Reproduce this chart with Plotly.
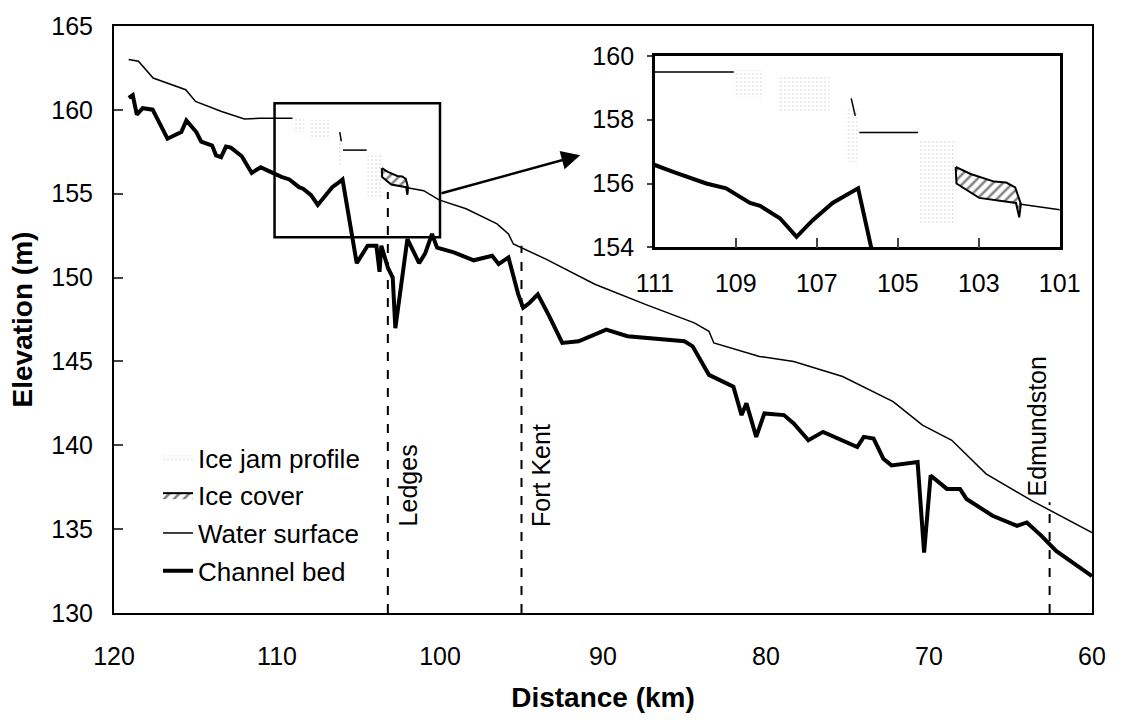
import plotly.graph_objects as go

FONT = "Liberation Sans, Arial, sans-serif"

# Water surface profile (distance km, elevation m); None marks a break in the line
ws_km = [119.1, 118.5, 117.6, 116.5, 115.6, 115.0, 114.2, 113.4, 112.0, 111.0, 109.05, None,
         106.15, 106.05, None,
         105.95, 104.5, None,
         102.0, 101.0, 100.06, 98.4, 96.5, 95.8, 95.5, 93.5, 90.5, 87.4, 84.4, 83.5, 83.2,
         80.4, 78.3, 75.3, 72.2, 70.4, 68.6, 66.5, 63.7, 60.0]
ws_el = [163.0, 162.9, 161.9, 161.5, 161.2, 160.5, 160.2, 159.9, 159.45, 159.5, 159.5, None,
         158.67, 158.12, None,
         157.6, 157.6, None,
         155.36, 155.18, 154.63, 154.1, 153.2, 152.6, 152.0, 151.1, 149.6, 148.4, 147.3, 146.8, 146.1,
         145.3, 145.0, 144.1, 142.6, 141.2, 140.3, 138.3, 136.7, 134.8]

# Channel bed profile
bed_km = [119.09, 118.85, 118.6, 118.24, 117.63, 116.72, 115.87, 115.56, 114.95, 114.65, 113.98,
          113.74, 113.43, 113.13, 112.83, 112.16, 111.55, 111.0, 110.53, 109.73, 109.24, 108.65,
          108.4, 107.91, 107.5, 107.1, 106.61, 106.29, 105.98, 105.11, 104.44, 103.9, 103.71,
          103.6, 103.2, 102.9, 102.74, 102.0, 101.28, 100.91, 100.49, 100.18, 99.15, 97.93,
          96.8, 96.4, 95.8, 95.2, 94.9, 94.5, 94.0, 93.3, 92.5, 91.5, 90.5, 89.8, 88.5, 86.5,
          85.0, 84.5, 83.5, 82.0, 81.5, 81.2, 80.6, 80.1, 78.9, 78.3, 77.4, 76.5, 75.3, 74.4,
          74.0, 73.4, 72.8, 72.3, 70.7, 70.3, 69.9, 68.9, 68.1, 67.7, 66.1, 64.6, 64.0, 63.1,
          62.2, 60.0]
bed_el = [160.71, 160.88, 159.72, 160.1, 160.01, 158.28, 158.68, 159.37, 158.68, 158.1, 157.87,
          157.29, 157.18, 157.81, 157.75, 157.23, 156.24, 156.58, 156.36, 156.0, 155.85, 155.39,
          155.3, 154.91, 154.33, 154.85, 155.39, 155.61, 155.85, 150.86, 151.9, 151.9, 150.34,
          151.9, 150.6, 150.0, 146.98, 152.3, 150.86, 151.44, 152.6, 151.78, 151.5, 151.03,
          151.3, 150.8, 151.2, 149.0, 148.2, 148.5, 149.0, 147.7, 146.1, 146.2, 146.6, 146.9,
          146.5, 146.3, 146.2, 145.9, 144.2, 143.5, 141.8, 142.5, 140.5, 141.9, 141.8, 141.3,
          140.3, 140.8, 140.3, 139.9, 140.5, 140.4, 139.2, 138.8, 139.0, 133.6, 138.2, 137.4,
          137.4, 136.8, 135.8, 135.2, 135.4, 134.6, 133.7, 132.2]

# Ice cover outline (closed polygon)
ice_km = [103.57, 103.2, 102.62, 102.32, 102.1, 101.96, 102.0, 102.08, 102.99, 103.55, 103.57]
ice_el = [156.52, 156.3, 156.06, 156.03, 155.88, 155.36, 154.94, 155.39, 155.55, 156.0, 156.52]

# Ice jam profile patches (closed polygons separated by None)
jam_km = [109.04, 108.33, 108.33, 109.04, 109.04, None,
          107.96, 106.69, 106.69, 107.96, 107.96, None,
          106.29, 106.0, 106.0, 106.29, 106.29, None,
          104.46, 103.55, 103.55, 104.46, 104.46]
jam_el = [159.55, 159.55, 158.7, 158.7, 159.55, None,
          159.39, 159.39, 158.24, 158.24, 159.39, None,
          158.4, 158.4, 156.67, 156.67, 158.4, None,
          157.33, 157.33, 154.76, 154.76, 157.33]

# Reference locations along the river
place_names = ["Ledges", "Fort Kent", "Edmundston"]
place_km = [103.2, 95.0, 62.6]
place_top = [155.1, 151.9, 136.6]
place_label_el = [137.6, 138.2, 141.1]
place_label_shift = [20, 20, -13]

# Zoomed reach
zoom_km = [110.15, 100.0]
zoom_el = [152.4, 160.4]

fig = go.Figure()

for axes, show in (("", True), ("2", False)):
    xa, ya = "x" + axes, "y" + axes
    fig.add_trace(go.Scatter(
        x=jam_km, y=jam_el, xaxis=xa, yaxis=ya, mode="lines", fill="toself",
        line=dict(width=0, color="rgba(0,0,0,0)"), fillcolor="rgba(0,0,0,0)",
        fillpattern=dict(shape=".", fgcolor="#c4c4c4", bgcolor="white", size=4, solidity=0.2),
        name="Ice jam profile", legendgroup="jam", showlegend=show))
    fig.add_trace(go.Scatter(
        x=ice_km, y=ice_el, xaxis=xa, yaxis=ya, mode="lines", fill="toself",
        line=dict(width=2, color="black"), fillcolor="white",
        fillpattern=dict(shape="/", fgcolor="black", bgcolor="white", size=7, solidity=0.35),
        name="Ice cover", legendgroup="ice", showlegend=show))
    fig.add_trace(go.Scatter(
        x=ws_km, y=ws_el, xaxis=xa, yaxis=ya, mode="lines",
        line=dict(width=1.5, color="black"), connectgaps=False,
        name="Water surface", legendgroup="ws", showlegend=show))
    fig.add_trace(go.Scatter(
        x=bed_km, y=bed_el, xaxis=xa, yaxis=ya, mode="lines",
        line=dict(width=4, color="black"),
        name="Channel bed", legendgroup="bed", showlegend=show))

# Dashed location markers and their names
for name, km, top in zip(place_names, place_km, place_top):
    fig.add_trace(go.Scatter(x=[km, km], y=[130, top], mode="lines",
                             line=dict(width=2, color="black", dash="dash"),
                             showlegend=False, hoverinfo="skip"))

for name, km, el, shift in zip(place_names, place_km, place_label_el, place_label_shift):
    fig.add_annotation(x=km, y=el, text=name, textangle=-90, showarrow=False,
                       xref="x", yref="y", xshift=shift,
                       font=dict(family=FONT, size=25, color="black"))

# Box around the zoomed reach and arrow to the inset
fig.add_shape(type="rect", xref="x", yref="y", x0=zoom_km[0], x1=zoom_km[1],
              y0=zoom_el[0], y1=zoom_el[1], line=dict(color="black", width=2.5))
fig.add_annotation(x=91.4, y=157.3, ax=zoom_km[1], ay=155.0, xref="x", yref="y",
                   axref="x", ayref="y", showarrow=True, arrowhead=2, arrowsize=1.5,
                   arrowwidth=2.5, arrowcolor="black", text="")

fig.update_layout(
    width=1125, height=720, margin=dict(l=114, r=24, t=19, b=97),
    paper_bgcolor="white", plot_bgcolor="white",
    font=dict(family=FONT, size=25, color="black"),
    showlegend=True,
    legend=dict(x=0.045, y=0.305, xanchor="left", yanchor="top", bgcolor="rgba(0,0,0,0)",
                font=dict(family=FONT, size=26), tracegroupgap=1, itemwidth=30),
    xaxis=dict(range=[120, 60], tickvals=[120, 110, 100, 90, 80, 70, 60],
               showgrid=False, zeroline=False, showline=True, linecolor="black", linewidth=2,
               mirror=True, ticks="", ticklabelstandoff=20,
               title=dict(text="<b>Distance (km)</b>", font=dict(size=28), standoff=18)),
    yaxis=dict(range=[130, 165], tickvals=[130, 135, 140, 145, 150, 155, 160, 165],
               showgrid=False, zeroline=False, showline=True, linecolor="black", linewidth=2,
               mirror=True, ticks="inside", ticklen=9, tickwidth=2, ticklabelstandoff=14,
               title=dict(text="<b>Elevation (m)</b>", font=dict(size=28), standoff=10)),
    xaxis2=dict(domain=[0.553, 0.967], anchor="y2", range=[111, 101],
                tickvals=[111, 109, 107, 105, 103, 101], showgrid=False, zeroline=False,
                showline=True, linecolor="black", linewidth=2.5, mirror=True,
                ticks="inside", ticklen=10, tickwidth=1.5, ticklabelstandoff=12),
    yaxis2=dict(domain=[0.623, 0.949], anchor="x2", range=[154, 160],
                tickvals=[154, 156, 158, 160], showgrid=False, zeroline=False,
                showline=True, linecolor="black", linewidth=2.5, mirror=True,
                ticks="outside", ticklen=5, tickwidth=1.5, ticklabelstandoff=8),
)

fig.write_html("out.html")
